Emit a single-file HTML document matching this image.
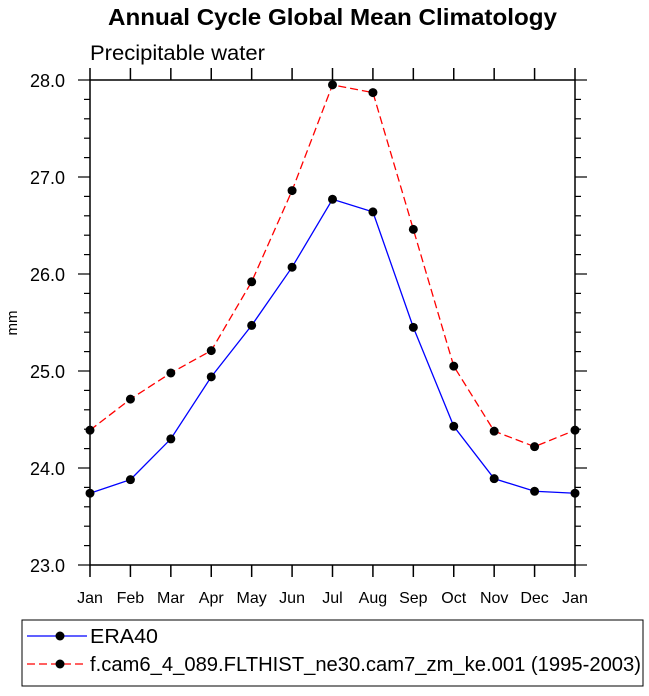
<!DOCTYPE html>
<html><head><meta charset="utf-8"><style>
body{margin:0;background:#fff;}
svg text{font-family:"Liberation Sans",Arial,sans-serif;}
</style></head><body>
<svg width="649" height="691" viewBox="0 0 649 691" xmlns="http://www.w3.org/2000/svg">
<text x="108" y="25" font-size="23" font-weight="bold" textLength="449" lengthAdjust="spacingAndGlyphs">Annual Cycle Global Mean Climatology</text>
<text x="90" y="60" font-size="21" textLength="175" lengthAdjust="spacingAndGlyphs">Precipitable water</text>
<text x="17" y="323" font-size="15" text-anchor="middle" transform="rotate(-90 17 323)">mm</text>
<g id="axes"></g>
<g id="series"></g>
<rect x="22" y="620" width="621" height="66" fill="none" stroke="#000" stroke-width="1"/>
<g>
<line x1="27" y1="636" x2="87" y2="636" stroke="#0000ff" stroke-width="1.3"/>
<circle cx="60" cy="636" r="4.5" fill="#000"/>
<text x="90" y="643" font-size="20" textLength="68" lengthAdjust="spacingAndGlyphs">ERA40</text>
</g>
<g>
<line x1="27" y1="664" x2="87" y2="664" stroke="#ff0000" stroke-width="1.3" stroke-dasharray="8,4"/>
<circle cx="60" cy="664" r="4.5" fill="#000"/>
<text x="90" y="671" font-size="20" textLength="551" lengthAdjust="spacingAndGlyphs">f.cam6_4_089.FLTHIST_ne30.cam7_zm_ke.001 (1995-2003)</text>
</g>
</svg>
<script>
const months = ["Jan","Feb","Mar","Apr","May","Jun","Jul","Aug","Sep","Oct","Nov","Dec","Jan"];
const era40 = [23.74,23.88,24.30,24.94,25.47,26.07,26.77,26.64,25.45,24.43,23.89,23.76,23.74];
const model = [24.39,24.71,24.98,25.21,25.92,26.86,27.95,27.87,26.46,25.05,24.38,24.22,24.39];
const yTicks = [23.0,24.0,25.0,26.0,27.0,28.0];
const yMin = 23, yMax = 28;
const L=90,R=575,T=80,B=565;
const NS="http://www.w3.org/2000/svg";
const xS=i=>L+(R-L)*i/(months.length-1);
const yS=v=>B-(B-T)*(v-yMin)/(yMax-yMin);
function mk(tag,attrs,parent){const e=document.createElementNS(NS,tag);for(const k in attrs)e.setAttribute(k,attrs[k]);parent.appendChild(e);return e;}
const ax=document.getElementById('axes');
const frame=mk('rect',{x:L,y:T,width:R-L,height:B-T,fill:'none',stroke:'#000','stroke-width':1.5},ax);


months.forEach((m,i)=>{
  const x=xS(i);
  mk('line',{x1:x,y1:B,x2:x,y2:B+12,stroke:'#000','stroke-width':1.5},ax);
  mk('line',{x1:x,y1:T,x2:x,y2:T-12,stroke:'#000','stroke-width':1.5},ax);
  const t=mk('text',{x:x,y:B+38,'font-size':16,'text-anchor':'middle'},ax);
  t.textContent=m;
  
  
});
for(let v=yMin;v<=yMax+1e-9;v+=0.2){
  const y=yS(v);
  const major=Math.abs(v-Math.round(v))<1e-6;
  const len=major?12:6;
  mk('line',{x1:L-len,y1:y,x2:L,y2:y,stroke:'#000','stroke-width':1.2},ax);
  mk('line',{x1:R,y1:y,x2:R+len,y2:y,stroke:'#000','stroke-width':1.2},ax);
}
yTicks.forEach(v=>{
  const t=mk('text',{x:L-25,y:yS(v)+7,'font-size':18,'text-anchor':'end'},ax);
  t.textContent=v.toFixed(1);
  
  
});
const sg=document.getElementById('series');
function series(vals,color,dash,name){
  const g=mk('g',{},sg);
  
  
  const pts=vals.map((v,i)=>xS(i)+','+yS(v)).join(' ');
  const a={points:pts,fill:'none',stroke:color,'stroke-width':1.3};
  if(dash)a['stroke-dasharray']=dash;
  mk('polyline',a,g);
  vals.forEach((v,i)=>{
    const c=mk('circle',{cx:xS(i),cy:yS(v),r:4.5,fill:'#000'},g);
    
    
  });
}
series(era40,'#0000ff',null,'series-era40');
series(model,'#ff0000','8,4','series-model');
</script>
</body></html>
